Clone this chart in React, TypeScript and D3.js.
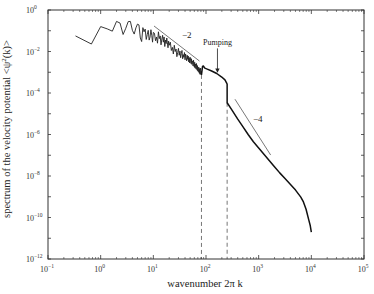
import React from "react";
import * as d3 from "d3";

const width = 374;
const height = 294;
const margin = { top: 10, right: 10, bottom: 35, left: 48 };

// [wavenumber 2πk, log10 of spectrum]
const forcingRange = [
  [0.333, -1.25], [0.667, -1.64], [1.0, -0.8], [1.333, -0.91], [1.667, -1.02],
  [2.0, -0.55], [2.333, -0.63], [2.667, -1.18], [3.0, -0.88], [3.333, -0.56],
  [3.667, -0.55], [4.0, -0.98], [4.333, -1.16], [4.667, -0.86], [5.0, -0.68],
];

const inertialRange = [
  [5.333, -0.72], [5.667, -1.35], [6.0, -1.52], [6.333, -0.85], [6.667, -1.05],
  [7.0, -0.92], [7.333, -1.42], [7.667, -1.18], [8.0, -0.98], [8.333, -1.45],
  [8.667, -1.3], [9.0, -0.95], [9.333, -1.22], [9.667, -1.55], [10, -1.08],
  [10.5, -1.12], [11, -1.48], [11.5, -1.3], [12, -1.6], [12.5, -1.05],
  [13, -1.38], [13.5, -1.25], [14, -1.68], [14.5, -1.4], [15, -1.22],
  [15.5, -1.55], [16, -1.3], [16.5, -1.76], [17, -1.45], [17.5, -1.62],
  [18, -1.35], [18.5, -1.58], [19, -1.82], [19.5, -1.5], [20, -1.7],
  [21, -1.55], [22, -1.95], [23, -1.8], [24, -2.12], [25, -1.7],
  [26, -2.0], [27, -1.88], [28, -2.25], [29, -2.05], [30, -1.85],
  [31, -2.18], [32, -1.98], [33, -2.3], [34, -2.1], [35, -1.95],
  [36, -2.35], [37, -2.15], [38, -2.28], [39, -2.05], [40, -2.4],
  [41, -2.12], [42, -2.3], [43, -2.45], [44, -2.18], [45, -2.38],
  [46, -2.22], [47, -2.5], [48, -2.3], [49, -2.55], [50, -2.28],
  [51, -2.42], [52, -2.58], [53, -2.35], [54, -2.62], [55, -2.45],
  [56, -2.55], [57, -2.7], [58, -2.42], [59, -2.6], [60, -2.75],
  [61, -2.52], [62, -2.8], [63, -2.6], [64, -2.72], [65, -2.85],
  [66, -2.58], [67, -2.8], [68, -2.9], [69, -2.68], [70, -2.95],
  [71, -2.75], [72, -2.88], [73, -3.0], [74, -2.78], [75, -3.05],
  [76, -2.85], [77, -3.1], [78, -2.92], [79, -2.8], [80, -3.1],
  [81, -2.95], [82, -3.13],
];

const pumpingRange = [
  [82, -3.13], [86, -2.72], [89, -2.7], [95, -2.8], [103, -2.84],
  [128, -2.94], [160, -3.06], [199, -3.23], [229, -3.37], [247, -3.52],
  [252, -3.58],
];

const dissipationRange = [
  [252, -4.47], [316, -4.85], [398, -5.25], [501, -5.62], [631, -6.0],
  [794, -6.35], [1000, -6.65], [1259, -6.95], [1585, -7.25], [1995, -7.55],
  [2512, -7.85], [3162, -8.12], [3981, -8.4], [5012, -8.68], [6310, -9.02],
  [7079, -9.25], [7943, -9.6], [8913, -10.1], [9550, -10.4], [10000, -10.7],
];

// reference power laws
const slopeMinus2 = [[10.3, -0.77], [75.2, -2.46]];
const slopeMinus4 = [[355, -4.3], [1690, -6.99]];

// dashed markers: wavenumber and spectrum where they start
const markers = [[82, -3.13], [252, -4.47]];

const xExponents = [-1, 0, 1, 2, 3, 4, 5];
const yExponents = [0, -1, -2, -3, -4, -5, -6, -7, -8, -9, -10, -11, -12];

const serif = "'Liberation Serif', 'DejaVu Serif', serif";
const fmt = (e: number) => (e < 0 ? "\u2212" + Math.abs(e) : String(e));

export default function App() {
  const x = d3
    .scaleLog()
    .domain([1e-1, 1e5])
    .range([margin.left, width - margin.right]);
  const y = d3
    .scaleLinear()
    .domain([0, -12])
    .range([margin.top, height - margin.bottom]);

  const line = d3
    .line<number[]>()
    .x((d) => x(d[0]))
    .y((d) => y(d[1]));

  const x0 = margin.left;
  const x1 = width - margin.right;
  const y0 = margin.top;
  const y1 = height - margin.bottom;

  const minorX: number[] = [];
  xExponents.slice(0, -1).forEach((e) => {
    for (let m = 2; m < 10; m++) minorX.push(m * Math.pow(10, e));
  });

  return (
    <svg
      width={width}
      height={height}
      style={{ position: "absolute", left: 0, top: 0, background: "#fff" }}
      fontFamily={serif}
    >
      {/* dashed markers */}
      {markers.map((d, i) => (
        <line
          key={"m" + i}
          x1={x(d[0])}
          x2={x(d[0])}
          y1={y(d[1])}
          y2={y1}
          stroke="#666"
          strokeWidth={0.9}
          strokeDasharray="4,3"
        />
      ))}

      {/* reference slopes */}
      <path d={line(slopeMinus2) || ""} fill="none" stroke="#555" strokeWidth={0.8} />
      <path d={line(slopeMinus4) || ""} fill="none" stroke="#555" strokeWidth={0.8} />

      {/* spectrum */}
      <path
        d={line([...forcingRange, ...inertialRange]) || ""}
        fill="none"
        stroke="#222"
        strokeWidth={0.9}
        strokeLinejoin="round"
      />
      <path
        d={line([...pumpingRange, ...dissipationRange]) || ""}
        fill="none"
        stroke="#111"
        strokeWidth={1.5}
        strokeLinejoin="round"
      />

      {/* annotations */}
      <text x={x(slopeMinus2[0][0]) + 28} y={y(-1.35)} fontSize={9} fill="#222">
        {"\u22122"}
      </text>
      <text x={x(slopeMinus4[0][0]) + 18} y={y(-5.4)} fontSize={9} fill="#222">
        {"\u22124"}
      </text>
      <text x={x(165)} y={y(-1.68)} fontSize={8} fill="#222" textAnchor="middle">
        Pumping
      </text>
      <line x1={x(165)} x2={x(165)} y1={y(-1.85)} y2={y(-2.95)} stroke="#222" strokeWidth={0.8} />
      <path
        d={`M${x(165) - 2.2},${y(-2.82)} L${x(165) + 2.2},${y(-2.82)} L${x(165)},${y(-3.02)} Z`}
        fill="#222"
      />

      {/* frame */}
      <rect x={x0} y={y0} width={x1 - x0} height={y1 - y0} fill="none" stroke="#333" strokeWidth={1} />

      {/* x ticks */}
      {xExponents.map((e) => {
        const px = x(Math.pow(10, e));
        return (
          <g key={"xt" + e}>
            <line x1={px} x2={px} y1={y1} y2={y1 - 4} stroke="#333" strokeWidth={0.8} />
            <line x1={px} x2={px} y1={y0} y2={y0 + 4} stroke="#333" strokeWidth={0.8} />
            <text x={px - 1} y={y1 + 13} fontSize={8} fill="#333" textAnchor="middle">
              <tspan>10</tspan>
              <tspan dy={-4} fontSize={5.5}>{fmt(e)}</tspan>
            </text>
          </g>
        );
      })}
      {minorX.map((v, i) => (
        <g key={"xm" + i}>
          <line x1={x(v)} x2={x(v)} y1={y1} y2={y1 - 2} stroke="#333" strokeWidth={0.6} />
          <line x1={x(v)} x2={x(v)} y1={y0} y2={y0 + 2} stroke="#333" strokeWidth={0.6} />
        </g>
      ))}

      {/* y ticks */}
      {yExponents.map((e) => {
        const py = y(e);
        return (
          <g key={"yt" + e}>
            <line x1={x0} x2={x0 + 3} y1={py} y2={py} stroke="#333" strokeWidth={0.8} />
            <line x1={x1} x2={x1 - 3} y1={py} y2={py} stroke="#333" strokeWidth={0.8} />
            {e % 2 === 0 && (
              <text x={26} y={py + 3} fontSize={8} fill="#333">
                <tspan>10</tspan>
                <tspan dy={-4} fontSize={5.5}>{fmt(e)}</tspan>
              </text>
            )}
          </g>
        );
      })}

      {/* axis titles */}
      <text x={205} y={287} fontSize={10.5} fill="#222" textAnchor="middle">
        wavenumber 2π k
      </text>
      <text
        transform={`translate(10,129) rotate(-90)`}
        fontSize={10.5}
        fill="#222"
        textAnchor="middle"
      >
        spectrum of the velocity potential &lt;ψ<tspan dy={-4} fontSize={7}>2</tspan>
        <tspan dy={4}>(k)&gt;</tspan>
      </text>
    </svg>
  );
}
